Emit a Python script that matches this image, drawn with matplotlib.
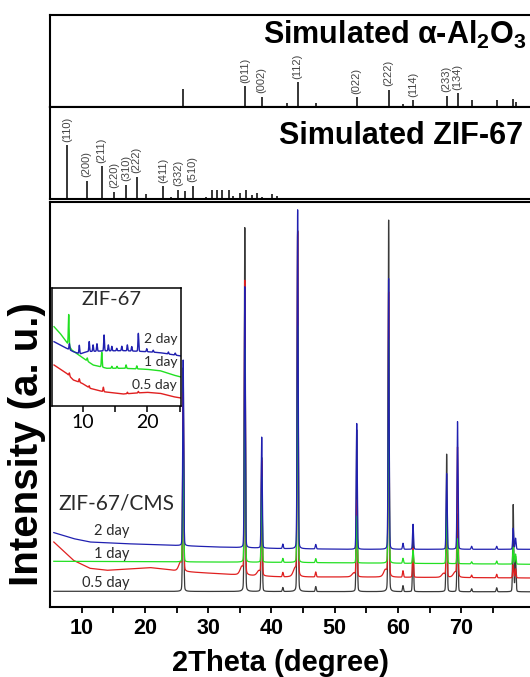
import numpy as np
import matplotlib
matplotlib.use('Agg')
import matplotlib.pyplot as plt
from matplotlib.ticker import FixedLocator

plt.rcParams['font.family'] = ['Liberation Sans', 'DejaVu Sans']
plt.rcParams['mathtext.fontset'] = 'custom'
plt.rcParams['mathtext.bf'] = 'Liberation Sans:bold'
plt.rcParams['mathtext.rm'] = 'Liberation Sans'

# ---------------- data ----------------
# Simulated alpha-Al2O3 sticks (2theta, relative intensity %)
al_pos = [26.05, 35.79, 38.46, 42.4, 44.14, 47.0, 53.48, 58.52, 60.79, 62.38,
          67.69, 69.41, 71.64, 75.6, 78.21, 78.58]
al_int = [72, 84, 42, 16, 100, 16, 41, 70, 12, 29, 46, 57, 29, 29, 32, 20]
al_hkl_pos = [35.79, 38.46, 44.14, 53.48, 58.52, 62.38, 67.69, 69.41]
al_hkl = ['(011)', '(002)', '(112)', '(022)', '(222)', '(114)', '(233)', '(134)']

# Simulated ZIF-67 sticks
zif_pos = [7.72, 10.79, 13.16, 15.15, 17.0, 18.69, 20.12, 22.9, 24.07, 25.27,
           26.33, 27.54, 29.6, 30.55, 31.34, 32.13, 33.28, 33.96, 35.02, 35.92,
           36.87, 37.66, 38.45, 40.03, 40.82]
zif_int = [100, 34, 61, 13, 26, 41, 9, 23, 4, 17, 14, 24, 4, 17, 17, 17, 17, 6,
           11, 17, 8, 11, 4, 9, 6]
zif_hkl_pos = [7.72, 10.79, 13.16, 15.15, 17.0, 18.69, 22.9, 25.27, 27.54]
zif_hkl = ['(110)', '(200)', '(211)', '(220)', '(310)', '(222)', '(411)', '(332)', '(510)']

# ZIF-67/CMS patterns (a.u.)
cms_peak_pos = [26.05, 35.79, 38.46, 41.8, 44.14, 47.0, 53.48, 58.52, 60.79, 62.38,
                67.69, 69.41, 71.64, 75.6, 78.21, 78.58]
black_h = [224, 364, 134, 4, 361, 5, 162, 372, 6, 54, 138, 78, 3, 4, 87, 35]
red_h = [176, 293, 114, 4.5, 343, 5, 76, 284, 6.5, 29, 63, 129, 2.5, 3.5, 13, 9]
blue_h = [186, 261, 111, 4.5, 339, 4.5, 126, 271, 6, 25, 76, 128, 3, 3, 21, 11]
green_h = [130, 214, 85, 4, 237, 4, 47, 224, 5, 13, 55, 25, 2, 3, 17, 10]
red_sh_pos = [25.6, 35.3, 38.0, 43.7, 53.0, 58.0, 67.2, 69.0]
red_sh_h = [9, 8, 5, 8, 4, 7, 4, 5]

black_bg_x = [5.6, 81.5]
black_bg_y = [16, 15.5]
green_bg_x = [5.6, 40, 81.5]
green_bg_y = [46, 45, 43]
blue_bg_x = [5.6, 8.7, 11.3, 16.5, 24.3, 31.3, 41.8, 52.4, 81.5]
blue_bg_y = [74.7, 68.7, 65.3, 63.7, 62, 60.3, 58.7, 58, 58]
red_bg_x = [5.6, 8.7, 11.3, 14.0, 20.8, 23.4, 25.2, 31.3, 35.5, 41.8, 52.4, 81.5]
red_bg_y = [65.3, 47, 39, 37, 39.7, 38, 36, 33.7, 32, 30.3, 30.3, 29.3]

# Inset (ZIF-67) patterns
in_green_bg_x = [5.56, 6.5, 7.26, 8.3, 10.1, 11.6, 13.7, 16.28, 19.9, 21.97, 24.0, 25.2]
in_green_bg_y = [79.3, 72.7, 66, 56, 47.7, 41, 37.7, 37.7, 36.7, 35.3, 31, 29]
in_green_pk = [7.83, 10.7, 12.94, 14.5, 15.3, 16.7, 18.36]
in_green_h = [31, 3, 15, 2, 2, 3.5, 3]
in_blue_bg_x = [5.56, 7.0, 8.55, 9.58, 10.6, 13.0, 16.28, 19.9, 21.97, 25.2]
in_blue_bg_y = [64.3, 59.3, 54.3, 52, 54.3, 55, 55.3, 54.3, 53.3, 50]
in_blue_pk = [7.93, 9.47, 11.0, 11.6, 12.2, 13.3, 13.96, 14.5, 15.26, 16.04,
              16.9, 17.58, 18.6, 19.9, 20.9, 23.25, 24.3]
in_blue_h = [6, 8.5, 10, 6.5, 7.5, 16, 6, 4.5, 2.5, 4.5, 6, 4.5, 18, 3, 2, 2, 2]
in_red_bg_x = [5.56, 7.52, 8.55, 9.9, 11.13, 13.19, 16.28, 19.9, 21.97, 24.0, 25.2]
in_red_bg_y = [41, 32.7, 26, 22.7, 17.7, 14.3, 12, 13.7, 12.7, 9.3, 8]
in_red_pk = [7.93, 9.47, 11.0, 13.19, 16.9, 18.6]
in_red_h = [3, 3.5, 2, 4.5, 1.5, 1.5]

BLACK = '#3a3a3a'
RED = '#e02020'
GREEN = '#22e022'
BLUE = '#2020b0'


def profile(x, bgx, bgy, pos, hts, wid, eta=0.15):
    y = np.interp(x, bgx, bgy)
    for p, h in zip(pos, hts):
        d = x - p
        g = np.exp(-0.5 * (d / wid) ** 2)
        lz = wid ** 2 / (d ** 2 + wid ** 2)
        y = y + h * ((1 - eta) * g + eta * lz)
    return y


W, H = 530, 677
fig = plt.figure(figsize=(W / 100, H / 100), dpi=100)


def fy(py):
    return 1 - py / H


X0, X1 = 5, 82
L = 50 / W
Wd = (X1 - X0) * 6.327 / W

ax_top = fig.add_axes([L, fy(107.3), Wd, (107.3 - 15) / H])
ax_mid = fig.add_axes([L, fy(198.8), Wd, (198.8 - 107.3) / H])
ax_main = fig.add_axes([L, fy(607.3), Wd, (607.3 - 202.3) / H])

for ax in (ax_top, ax_mid, ax_main):
    ax.set_xlim(X0, X1)
    for s in ax.spines.values():
        s.set_linewidth(1.5)
    ax.set_yticks([])

for ax in (ax_top, ax_mid):
    ax.set_xticks([])

# sticks
ax_top.vlines(al_pos, 0, al_int, color='k', lw=1.1)
ax_top.set_ylim(0, 369)
for p, lab in zip(al_hkl_pos, al_hkl):
    h = al_int[al_pos.index(p)]
    ax_top.annotate(lab, xy=(p, h), xytext=(0, 2.5), textcoords='offset points',
                    rotation=90, ha='center', va='bottom', fontsize=8, color='#444444')

ax_mid.vlines(zif_pos, 0, zif_int, color='k', lw=1.1)
ax_mid.set_ylim(0, 170.7)
for p, lab in zip(zif_hkl_pos, zif_hkl):
    h = zif_int[zif_pos.index(p)]
    ax_mid.annotate(lab, xy=(p, h), xytext=(0, 2.5), textcoords='offset points',
                    rotation=90, ha='center', va='bottom', fontsize=8, color='#444444')

fig.text(527 / W, fy(43.5), 'Simulated α-Al$_\\mathbf{2}$O$_\\mathbf{3}$', ha='right',
         va='baseline', fontsize=22, fontweight='bold')
fig.text(523 / W, fy(144), 'Simulated ZIF-67', ha='right', va='baseline',
         fontsize=22, fontweight='bold')

# main patterns
x = np.linspace(5.6, 81.5, 6000)
yk = profile(x, black_bg_x, black_bg_y, cms_peak_pos, black_h, 0.08)
yr = profile(x, red_bg_x, red_bg_y, cms_peak_pos, red_h, 0.08)
yr = yr + profile(x, [5, 82], [0, 0], red_sh_pos, red_sh_h, 0.3, eta=0.5)
yg = profile(x, green_bg_x, green_bg_y, cms_peak_pos, green_h, 0.08)
yb = profile(x, blue_bg_x, blue_bg_y, cms_peak_pos, blue_h, 0.08)
ax_main.plot(x, yk, color=BLACK, lw=0.9)
ax_main.plot(x, yr, color=RED, lw=0.9)
ax_main.plot(x, yg, color=GREEN, lw=0.9)
ax_main.plot(x, yb, color=BLUE, lw=0.9)
ax_main.set_ylim(0, 405)

ax_main.xaxis.set_major_locator(FixedLocator([10, 20, 30, 40, 50, 60, 70]))
ax_main.xaxis.set_minor_locator(FixedLocator([15, 25, 35, 45, 55, 65, 75]))
ax_main.tick_params(axis='x', which='both', direction='out', length=4.5, width=1.3,
                    top=False, pad=3.5)
for t in ax_main.get_xticklabels():
    t.set_fontsize(15.5)
    t.set_fontweight('bold')

fig.text(280.5 / W, fy(671), '2Theta (degree)', ha='center', va='baseline',
         fontsize=21, fontweight='bold')
fig.text(27 / W, fy(444), 'Intensity (a. u.)', ha='center', va='center',
         rotation=90, fontsize=29, fontweight='bold')

LBL = dict(family=['Lato', 'DejaVu Sans'], color='#2a2a2a')
fig.text(116 / W, fy(509), 'ZIF-67/CMS', ha='center', va='baseline', fontsize=15, **LBL)
fig.text(129.5 / W, fy(535), '2 day', ha='right', va='baseline', fontsize=10.5, **LBL)
fig.text(129.5 / W, fy(558.3), '1 day', ha='right', va='baseline', fontsize=10.5, **LBL)
fig.text(129.5 / W, fy(586.7), '0.5 day', ha='right', va='baseline', fontsize=10.5, **LBL)

# inset
ax_in = fig.add_axes([51.7 / W, fy(406), (181 - 51.7) / W, (406 - 288.3) / H])
ax_in.set_zorder(5)
xi = np.linspace(5.56, 25.2, 3000)
ax_in.plot(xi, profile(xi, in_red_bg_x, in_red_bg_y, in_red_pk, in_red_h, 0.06),
           color=RED, lw=1.0)
ax_in.plot(xi, profile(xi, in_green_bg_x, in_green_bg_y, in_green_pk, in_green_h, 0.06),
           color=GREEN, lw=1.0)
ax_in.plot(xi, profile(xi, in_blue_bg_x, in_blue_bg_y, in_blue_pk, in_blue_h, 0.06),
           color=BLUE, lw=1.0)
ax_in.set_xlim(5.2, 25.2)
ax_in.set_ylim(0, 117.7)
ax_in.set_yticks([])
ax_in.xaxis.set_major_locator(FixedLocator([10, 20]))
ax_in.xaxis.set_minor_locator(FixedLocator([15, 25]))
ax_in.tick_params(axis='x', which='both', direction='out', length=4, width=1.1, pad=2)
for t in ax_in.get_xticklabels():
    t.set_fontsize(14)
    t.set_family(['Lato', 'DejaVu Sans'])
for s in ax_in.spines.values():
    s.set_linewidth(1.1)
ax_in.text(0.46, 0.86, 'ZIF-67', transform=ax_in.transAxes, ha='center',
           va='baseline', fontsize=14.5, **LBL)
fig.text(177 / W, fy(343.3), '2 day', ha='right', va='baseline', fontsize=10, zorder=6, **LBL)
fig.text(177 / W, fy(366), '1 day', ha='right', va='baseline', fontsize=10, zorder=6, **LBL)
fig.text(177 / W, fy(389), '0.5 day', ha='right', va='baseline', fontsize=10, zorder=6, **LBL)

fig.savefig('out.png', dpi=100)
